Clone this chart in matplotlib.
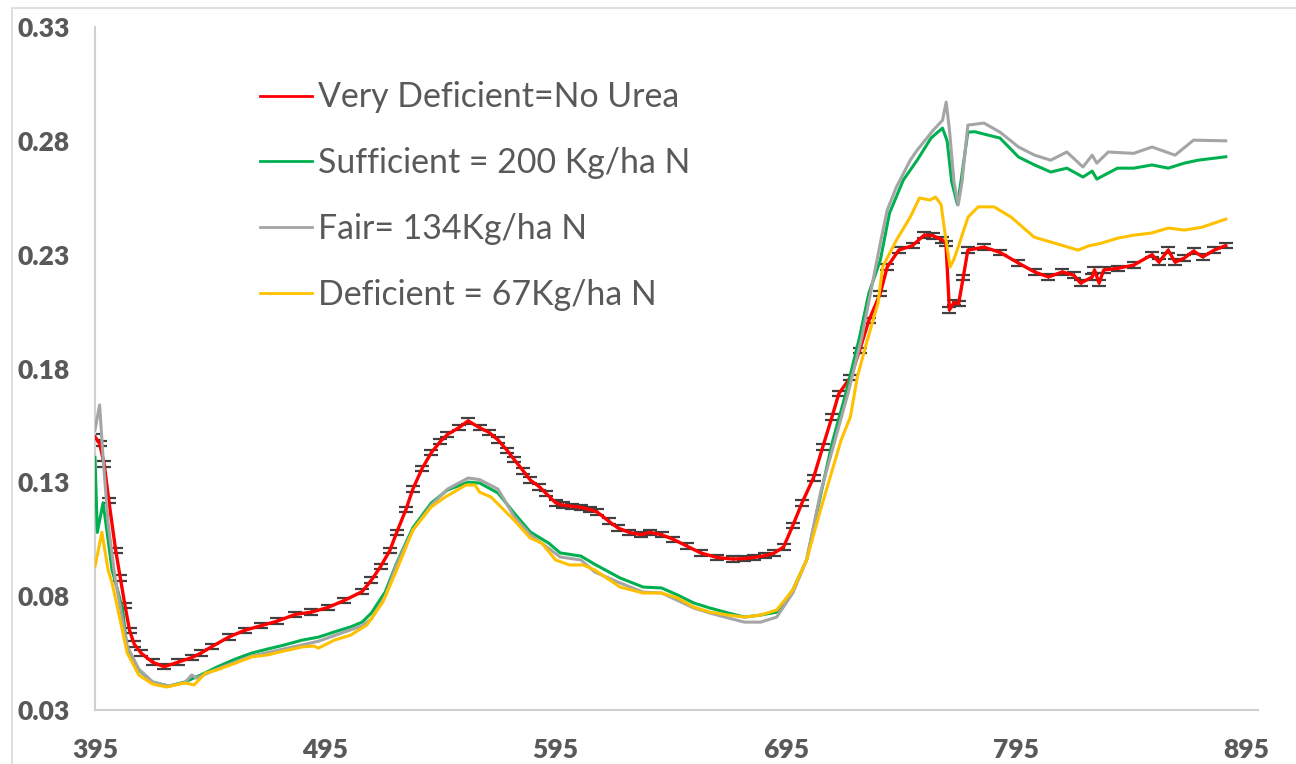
#!/usr/bin/env python3
"""Reflectance spectra of maize leaves under four N rates (with SE bars on control)."""
import matplotlib
matplotlib.use("Agg")
import matplotlib.pyplot as plt
from matplotlib.patches import Rectangle

plt.rcParams["font.family"] = ["Lato", "DejaVu Sans"]

# Very Deficient = No Urea (red, with error bars)
red_wl = [395, 397, 399, 401, 404, 406, 408, 410, 412, 415, 420, 425, 431, 437, 441,
          446, 453, 460, 467, 474, 482, 489, 496, 503, 511, 515, 519, 523, 526, 530,
          533, 537, 541, 545, 548, 553, 557, 562, 566, 570, 574, 577, 581, 584, 588,
          591, 595, 598, 602, 606, 610, 613, 618, 622, 627, 632, 636, 641, 646, 652,
          658, 665, 672, 677, 681, 686, 690, 694, 698, 702, 707, 711, 715, 718, 723,
          727, 731, 736, 739, 744, 750, 755, 759, 763, 764.5, 766, 768, 770, 772, 774,
          781, 788, 796, 803, 809, 815, 820, 823, 828, 829, 831, 833, 839, 846, 854,
          857, 861, 864, 868, 872, 876, 881, 886]
red_val = [0.150, 0.147, 0.138, 0.122, 0.100, 0.088, 0.076, 0.065, 0.059, 0.055, 0.051,
           0.049, 0.051, 0.053, 0.055, 0.058, 0.062, 0.065, 0.067, 0.069, 0.072, 0.073,
           0.075, 0.078, 0.082, 0.087, 0.093, 0.100, 0.108, 0.118, 0.127, 0.136, 0.143,
           0.148, 0.151, 0.154, 0.157, 0.154, 0.152, 0.1486, 0.144, 0.140, 0.135, 0.131,
           0.128, 0.125, 0.121, 0.120, 0.1195, 0.119, 0.118, 0.117, 0.113, 0.110, 0.108,
           0.107, 0.108, 0.107, 0.105, 0.102, 0.099, 0.097, 0.0963, 0.0965, 0.097,
           0.0978, 0.099, 0.1016, 0.111, 0.121, 0.132, 0.1455, 0.1587, 0.169, 0.176,
           0.188, 0.201, 0.213, 0.2246, 0.232, 0.234, 0.2386, 0.2383, 0.2364, 0.235,
           0.2057, 0.209, 0.2085, 0.220, 0.232, 0.2333, 0.231, 0.2263, 0.2224, 0.2202,
           0.2224, 0.221, 0.2175, 0.2202, 0.2233, 0.2175, 0.2233, 0.224, 0.2254, 0.230,
           0.2267, 0.232, 0.2267, 0.2285, 0.2316, 0.229, 0.232, 0.234]
red_err = 0.0012

# Sufficient = 200 Kg/ha N (green)
green_wl = [395, 396, 398.5, 400.7, 402.4, 405, 407, 409, 414, 420, 427, 434, 441, 448,
            456, 463, 470, 477, 485, 492, 499, 506, 511, 515, 521, 526, 533, 541, 548,
            557, 562, 570, 577, 584, 592, 597, 606, 612, 623, 633, 641, 648, 655, 662,
            670, 677, 684, 691, 698, 704, 710, 715, 721, 727, 731, 736, 740, 746, 752,
            758, 763, 765, 767, 769.5, 771, 774, 777, 788, 796, 803, 810, 817, 824, 828,
            830, 839, 846, 854, 861, 868, 874, 886]
green_val = [0.141, 0.108, 0.121, 0.1047, 0.0915, 0.082, 0.074, 0.0563, 0.0476, 0.0423,
             0.0405, 0.0423, 0.0454, 0.0489, 0.0524, 0.055, 0.0568, 0.0585, 0.0607,
             0.062, 0.0643, 0.0665, 0.0686, 0.0726, 0.0818, 0.0946, 0.110, 0.1209,
             0.1266, 0.1301, 0.1297, 0.1253, 0.1165, 0.1082, 0.1033, 0.099, 0.0976,
             0.094, 0.088, 0.084, 0.0836, 0.0805, 0.077, 0.0748, 0.0726, 0.0708, 0.0717,
             0.073, 0.0827, 0.0959, 0.124, 0.147, 0.169, 0.1938, 0.213, 0.2276, 0.2483,
             0.2628, 0.2715, 0.2812, 0.2856, 0.280, 0.262, 0.252, 0.262, 0.2838, 0.284,
             0.2812, 0.2729, 0.2694, 0.2663, 0.268, 0.2641, 0.2667, 0.2632, 0.268,
             0.268, 0.2694, 0.268, 0.2702, 0.2715, 0.273]

# Fair = 134 Kg/ha N (gray)
gray_wl = [395, 397, 398.5, 400.7, 403.7, 406, 409, 414, 420, 427, 434, 437, 439, 448,
           463, 477, 492, 506, 511, 515, 521, 526, 533, 541, 548, 557, 562, 570, 577,
           584, 592, 597, 606, 612, 623, 633, 641, 655, 662, 670, 677, 684, 691, 698,
           704, 710, 716, 722, 728, 732, 736, 739, 743, 749, 752, 759, 763, 764.6, 766,
           768, 769.8, 771.5, 774, 781, 788, 796, 803, 810, 817, 824, 828, 830, 835,
           846, 854, 864, 872, 886]
gray_val = [0.153, 0.164, 0.141, 0.112, 0.088, 0.075, 0.058, 0.048, 0.0423, 0.0405,
            0.042, 0.0454, 0.044, 0.048, 0.0537, 0.0568, 0.0602, 0.0652, 0.067, 0.070,
            0.080, 0.094, 0.109, 0.120, 0.127, 0.1319, 0.1312, 0.127, 0.115, 0.107,
            0.101, 0.0972, 0.0959, 0.0906, 0.0858, 0.0818, 0.0814, 0.0748, 0.0726,
            0.0704, 0.0686, 0.0686, 0.0708, 0.0814, 0.0959, 0.1253, 0.1473, 0.1692,
            0.1938, 0.2144, 0.2351, 0.2496, 0.2597, 0.2715, 0.2759, 0.2847, 0.289, 0.297,
            0.285, 0.262, 0.2518, 0.262, 0.2869, 0.2878, 0.2838, 0.2773, 0.2737, 0.2715,
            0.2751, 0.2685, 0.2737, 0.2702, 0.2751, 0.2745, 0.2773, 0.2737, 0.2803, 0.280]

# Deficient = 67 Kg/ha N (yellow)
yellow_wl = [395, 398, 400.7, 402.4, 405, 409, 414, 420, 426, 434, 438, 443, 448, 456,
             463, 470, 477, 485, 490, 492, 499, 506, 513, 520, 526, 533, 541, 547, 556,
             560, 562, 567, 577, 584, 589, 595, 601, 607, 612, 623, 633, 641, 648, 655,
             662, 670, 677, 684, 691, 698, 704, 710, 719, 723, 726, 730, 735, 737, 743,
             749, 753, 757.6, 760, 762.4, 764, 766.3, 768, 769.8, 774.1, 778.5, 785.4,
             792.8, 802.8, 810.2, 817.6, 821.9, 826.3, 831.8, 839.3, 846.3, 853.7,
             861.1, 868, 875.5, 886]
yellow_val = [0.093, 0.108, 0.0915, 0.0858, 0.0739, 0.055, 0.0454, 0.0414, 0.0401,
              0.0419, 0.041, 0.0462, 0.0476, 0.0506, 0.0533, 0.0542, 0.0559, 0.0577,
              0.0581, 0.0572, 0.0607, 0.0629, 0.0673, 0.0774, 0.0915, 0.109, 0.1192,
              0.1235, 0.1288, 0.1288, 0.1257, 0.1235, 0.1134, 0.1055, 0.1033, 0.0959,
              0.0937, 0.0937, 0.0915, 0.084, 0.0814, 0.0814, 0.0792, 0.0752, 0.073,
              0.0717, 0.0708, 0.0717, 0.0739, 0.0827, 0.0959, 0.1178, 0.1486, 0.1587,
              0.1762, 0.1912, 0.2087, 0.2246, 0.2364, 0.2465, 0.2549, 0.254, 0.2553,
              0.252, 0.240, 0.2246, 0.228, 0.2333, 0.2465, 0.251, 0.251, 0.2465,
              0.2377, 0.2355, 0.2333, 0.232, 0.2338, 0.235, 0.2373, 0.2386, 0.2395,
              0.2417, 0.2408, 0.242, 0.2456]

labels = ["Very Deficient=No Urea", "Sufficient = 200 Kg/ha N",
          "Fair= 134Kg/ha N", "Deficient = 67Kg/ha N"]
x_ticks = [395, 495, 595, 695, 795, 895]
y_ticks = [0.03, 0.08, 0.13, 0.18, 0.23, 0.28, 0.33]

fig = plt.figure(figsize=(12.96, 7.64), dpi=100)
ax = fig.add_axes([95 / 1296, 1 - 710 / 764, (1258 - 95) / 1296, (710 - 27) / 764])

# chart-area border like the spreadsheet export
fig.patches.append(Rectangle((12 / 1296, -0.01), 1.2, 1 - 8 / 764 + 0.01,
                             transform=fig.transFigure, fill=False,
                             edgecolor="#D9D9D9", lw=1.2))

ax.errorbar(red_wl, red_val, yerr=red_err, fmt="none", ecolor="#404040",
            elinewidth=0.8, capsize=5, capthick=1.6, zorder=2)
ax.plot(red_wl, red_val, color="#FF0000", lw=2.4, zorder=3, label=labels[0])
ax.plot(green_wl, green_val, color="#00B050", lw=2.2, zorder=3, label=labels[1])
ax.plot(gray_wl, gray_val, color="#A5A5A5", lw=2.2, zorder=3, label=labels[2])
ax.plot(yellow_wl, yellow_val, color="#FFC000", lw=2.2, zorder=3, label=labels[3])

ax.set_xlim(395, 900)
ax.set_ylim(0.03, 0.33)
ax.set_xticks(x_ticks)
ax.set_yticks(y_ticks)
ax.set_xticklabels([str(v) for v in x_ticks])
ax.set_yticklabels([f"{v:.2f}" for v in y_ticks])
ax.tick_params(length=0, labelsize=19, labelcolor="#595959")
ax.tick_params(axis="x", pad=20)
ax.tick_params(axis="y", pad=18)
for t in ax.get_xticklabels() + ax.get_yticklabels():
    t.set_fontweight("heavy")

for side in ("top", "right"):
    ax.spines[side].set_visible(False)
for side in ("left", "bottom"):
    ax.spines[side].set_color("#D0D0D0")
    ax.spines[side].set_linewidth(1.5)

leg = ax.legend(loc="upper left", bbox_to_anchor=(0.116, 0.965), frameon=False,
                fontsize=24.4, handlelength=1.53, handletextpad=0.18, labelspacing=1.0)
for h in leg.get_lines():
    h.set_linewidth(2)
for t in leg.get_texts():
    t.set_color("#595959")

fig.savefig("out.png", dpi=100)
